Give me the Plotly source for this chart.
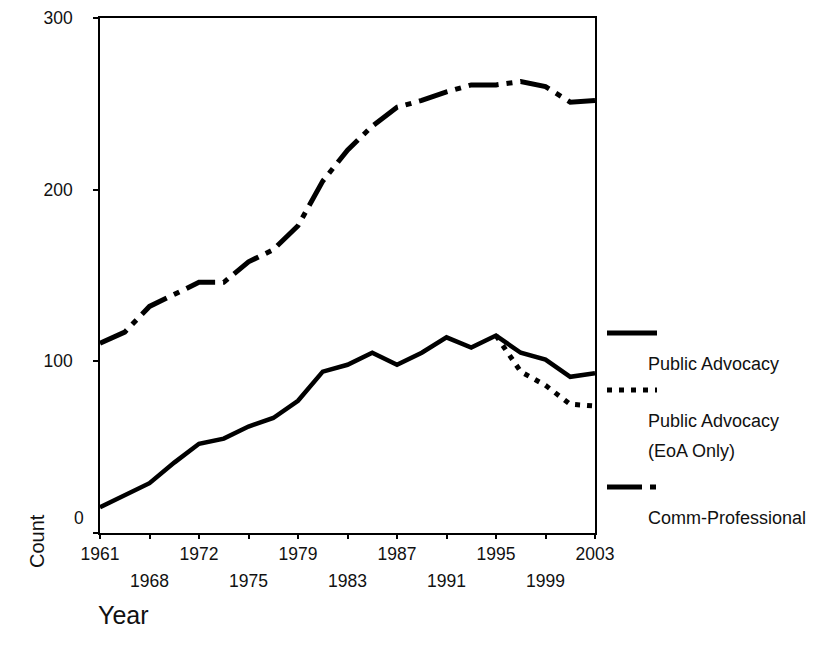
import plotly.graph_objects as go

# ---------------- data ----------------
years = [1961, 1964, 1968, 1970, 1972, 1973, 1975, 1977, 1979, 1981, 1983,
         1985, 1987, 1989, 1991, 1993, 1995, 1997, 1999, 2001, 2003]
public_advocacy = [15, 22, 29, 41, 52, 55, 62, 67, 77, 94, 98,
                   105, 98, 105, 114, 108, 115, 105, 101, 91, 93]
public_advocacy_eoa = [None] * 16 + [115, 94, 86, 75, 74]
comm_professional = [110.5, 117, 132, 139, 146, 146, 158, 165, 179, 205, 223,
                     237, 248, 252, 257, 261, 261, 263, 260, 251, 252]
x_tick_labels = [1961, 1968, 1972, 1975, 1979, 1983, 1987, 1991, 1995, 1999, 2003]
y_ticks = [0, 100, 200, 300]

# ---------------- layout constants ----------------
OFF = 8                       # page body margin of the html page
W, H = 814 - 2 * OFF, 656 - 2 * OFF
PLOT_L, PLOT_R, PLOT_T, PLOT_B = 100, 595, 18, 533   # screen pixels
L, T = PLOT_L - OFF, PLOT_T - OFF
R, B = W - (PLOT_R - OFF), H - (PLOT_B - OFF)
PW, PH = PLOT_R - PLOT_L, PLOT_B - PLOT_T
FONT = "Liberation Sans, Arial, sans-serif"
INK = "#111111"
TICK_SIZE = 17.5


def px2paper(px, py):
    return (px - PLOT_L) / PW, (PLOT_B - py) / PH


xcat = [str(y) for y in years]
xidx = list(range(len(years)))
top_row = x_tick_labels[::2]
bottom_row = x_tick_labels[1::2]

fig = go.Figure()
fig.add_trace(go.Scatter(x=xcat, y=comm_professional, mode="lines",
                         name="Comm-Professional", showlegend=False,
                         line=dict(color="black", width=5, dash="30px,8px,6px,8px")))
fig.add_trace(go.Scatter(x=xcat, y=public_advocacy_eoa, mode="lines",
                         name="Public Advocacy (EoA Only)", showlegend=False,
                         line=dict(color="black", width=5, dash="5px,7px")))
fig.add_trace(go.Scatter(x=xcat, y=public_advocacy, mode="lines",
                         name="Public Advocacy", showlegend=False,
                         line=dict(color="black", width=4.5)))
# carrier trace for the second (staggered) row of year labels
fig.add_trace(go.Scatter(x=xidx, y=public_advocacy, xaxis="x2", mode="lines",
                         line=dict(width=0, color="rgba(0,0,0,0)"), opacity=0,
                         hoverinfo="skip", showlegend=False))

fig.update_layout(
    width=W, height=H,
    margin=dict(l=L, r=R, t=T, b=B, autoexpand=False),
    paper_bgcolor="white", plot_bgcolor="white",
    font=dict(family=FONT, size=TICK_SIZE, color=INK),
    showlegend=False,
    xaxis=dict(type="category", categoryorder="array", categoryarray=xcat,
               range=[0, len(years) - 1],
               tickmode="array",
               tickvals=[str(y) for y in x_tick_labels],
               ticktext=[str(y) if y in top_row else "" for y in x_tick_labels],
               ticks="outside", ticklen=4, tickwidth=2, tickcolor="black",
               showline=True, linecolor="black", linewidth=1.5, mirror=True,
               showgrid=False, zeroline=False,
               tickfont=dict(size=TICK_SIZE, family=FONT, color=INK)),
    xaxis2=dict(type="linear", overlaying="x", anchor="y", side="bottom",
                range=[0, len(years) - 1],
                tickmode="array",
                tickvals=[years.index(y) for y in bottom_row],
                ticktext=[str(y) for y in bottom_row],
                ticks="", showline=False, showgrid=False, zeroline=False,
                ticklabelstandoff=35,
                tickfont=dict(size=TICK_SIZE, family=FONT, color=INK)),
    yaxis=dict(range=[0, 300], tickmode="array", tickvals=y_ticks,
               ticktext=["" if v == 0 else str(v) for v in y_ticks],
               ticks="outside", ticklen=5, tickwidth=2, tickcolor="black",
               showline=True, linecolor="black", linewidth=1.5, mirror=True,
               showgrid=False, zeroline=False, ticklabelstandoff=17,
               tickfont=dict(size=TICK_SIZE, family=FONT, color=INK)),
)

# the zero label sits slightly above its tick in the original
zx, zy = px2paper(86, 518)
fig.add_annotation(text=str(y_ticks[0]), x=zx, y=zy, xref="paper", yref="paper",
                   showarrow=False, xanchor="right", yanchor="middle",
                   font=dict(size=TICK_SIZE, family=FONT, color=INK))

# axis titles (placed like the original, at the axis ends)
cx, cy = px2paper(37, 541)
fig.add_annotation(text="Count", x=cx, y=cy, xref="paper", yref="paper",
                   textangle=-90, showarrow=False, xanchor="center", yanchor="middle",
                   font=dict(size=20, family=FONT, color=INK))
yx, yy = px2paper(123, 615)
fig.add_annotation(text="Year", x=yx, y=yy, xref="paper", yref="paper",
                   showarrow=False, xanchor="center", yanchor="middle",
                   font=dict(size=25, family=FONT, color=INK))

# manual legend (sample line above each label, as in the original)
legend_items = [
    ("solid", 333, [("Public Advocacy", 364)]),
    ("5px,7px", 390, [("Public Advocacy", 421), ("(EoA Only)", 451)]),
    ("35px,8px,6px,8px", 487, [("Comm-Professional", 518)]),
]
for dash, sy, texts in legend_items:
    x0, y0 = px2paper(607, sy)
    x1, _ = px2paper(657, sy)
    fig.add_shape(type="line", xref="paper", yref="paper", x0=x0, x1=x1, y0=y0, y1=y0,
                  line=dict(color="black", width=5, dash=dash))
    for txt, ty in texts:
        tx, typ = px2paper(646, ty)
        fig.add_annotation(text=txt, x=tx, y=typ, xref="paper", yref="paper",
                           showarrow=False, xanchor="left", yanchor="middle",
                           font=dict(size=18, family=FONT, color=INK))

fig.write_html("out.html")
